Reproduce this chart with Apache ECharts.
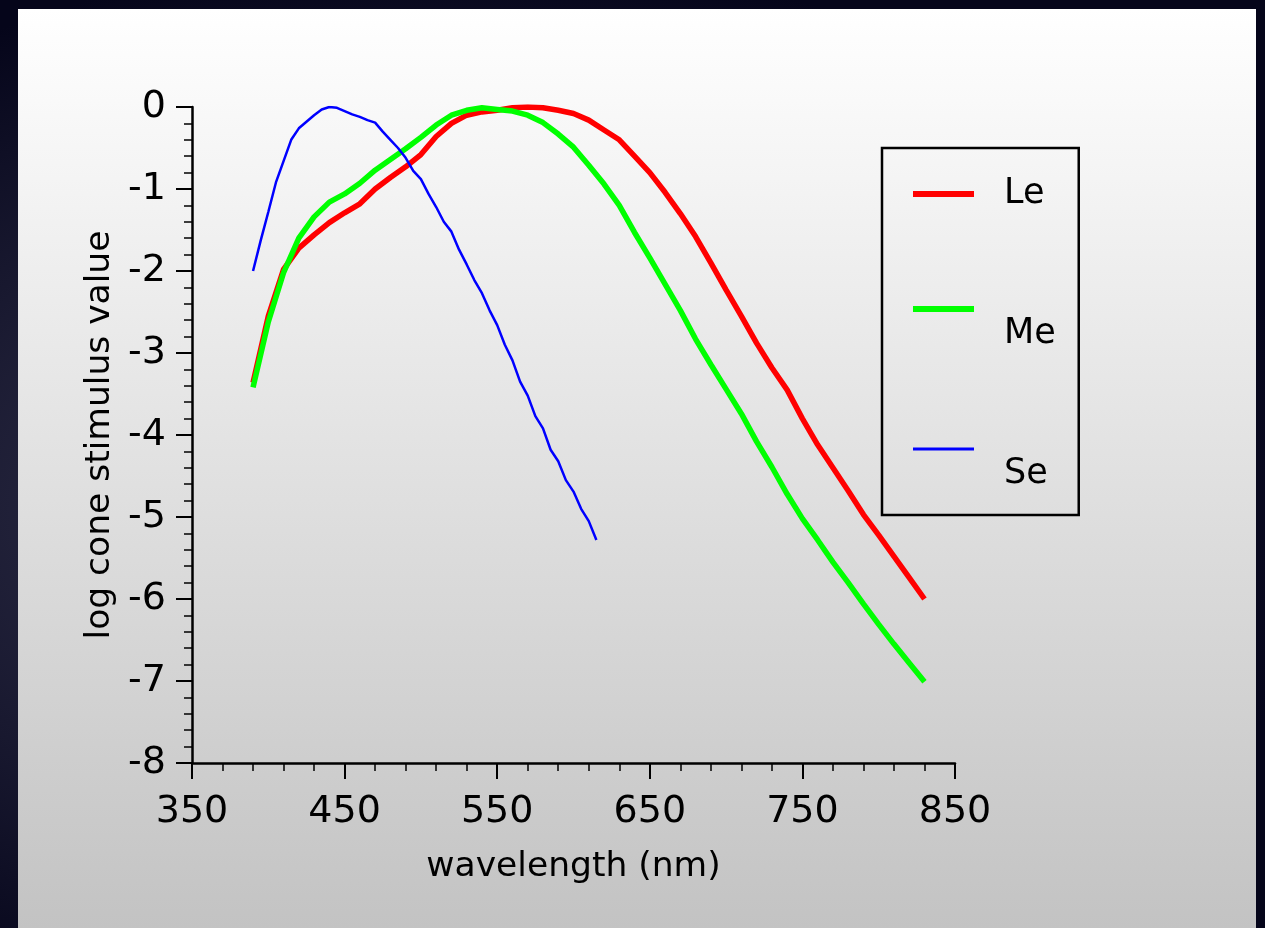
<!DOCTYPE html>
<html>
<head>
<meta charset="utf-8">
<title>log cone stimulus value</title>
<script src="https://cdn.jsdelivr.net/npm/echarts@6/dist/echarts.min.js"></script>
<style>
  html, body { margin: 0; padding: 0; }
  body {
    width: 1265px; height: 928px; overflow: hidden; position: relative;
    background: radial-gradient(ellipse 70% 60% at 35% 55%, #3c3c54 0%, #22223a 45%, #05051a 100%);
  }
  #panel {
    position: absolute; left: 18px; top: 9px; width: 1238px; height: 919px;
    background: linear-gradient(#ffffff, #c3c3c3);
  }
  #chart { position: absolute; left: 0; top: 0; width: 1265px; height: 928px; }
</style>
</head>
<body>
<div id="panel"></div>
<div id="chart"></div>
<script>
// wavelength grid (nm)
const wlLM = [390, 400, 410, 420, 430, 440, 450, 460, 470, 480, 490, 500, 510, 520, 530,
  540, 550, 560, 570, 580, 590, 600, 610, 620, 630, 640, 650, 660, 670, 680, 690, 700,
  710, 720, 730, 740, 750, 760, 770, 780, 790, 800, 810, 820, 830];
const wlS = [390, 395, 400, 405, 410, 415, 420, 425, 430, 435, 440, 445, 450, 455, 460,
  465, 470, 475, 480, 485, 490, 495, 500, 505, 510, 515, 520, 525, 530, 535, 540, 545,
  550, 555, 560, 565, 570, 575, 580, 585, 590, 595, 600, 605, 610, 615];

// log cone stimulus values
const leValues = [-3.36, -2.55, -1.98, -1.72, -1.56, -1.41, -1.29, -1.18, -1.00, -0.86,
  -0.73, -0.58, -0.36, -0.20, -0.10, -0.06, -0.04, -0.01, 0.00, -0.01, -0.04, -0.08,
  -0.16, -0.28, -0.40, -0.60, -0.80, -1.04, -1.30, -1.58, -1.90, -2.23, -2.55, -2.88,
  -3.18, -3.45, -3.80, -4.12, -4.40, -4.68, -4.97, -5.22, -5.48, -5.74, -6.00];
const meValues = [-3.42, -2.62, -2.02, -1.60, -1.34, -1.16, -1.06, -0.93, -0.77, -0.64,
  -0.51, -0.37, -0.22, -0.10, -0.04, -0.01, -0.03, -0.05, -0.10, -0.19, -0.33, -0.49,
  -0.71, -0.94, -1.20, -1.53, -1.84, -2.16, -2.48, -2.83, -3.14, -3.44, -3.74, -4.08,
  -4.39, -4.72, -5.02, -5.28, -5.55, -5.80, -6.06, -6.31, -6.55, -6.78, -7.01];
const seValues = [-2.00, -1.63, -1.28, -0.92, -0.66, -0.40, -0.26, -0.18, -0.10, -0.03,
  0.00, -0.01, -0.05, -0.09, -0.12, -0.16, -0.19, -0.30, -0.40, -0.50, -0.62, -0.78,
  -0.88, -1.06, -1.22, -1.40, -1.52, -1.74, -1.92, -2.11, -2.27, -2.48, -2.66, -2.90,
  -3.09, -3.35, -3.52, -3.77, -3.92, -4.18, -4.32, -4.55, -4.69, -4.90, -5.05, -5.28];

const seriesNames = ['Le', 'Me', 'Se'];
const seriesColors = ['#ff0000', '#00ff00', '#0000ff'];
const seriesWidths = [5.5, 5.5, 2.5];

const font = 'DejaVu Sans, Verdana, sans-serif';

const pairs = (xs, ys) => xs.map((x, i) => [x, ys[i]]);

const chart = echarts.init(document.getElementById('chart'));

const axisCommon = {
  axisLine: { show: true, onZero: false, lineStyle: { color: '#000', width: 2.5 } },
  axisTick: { show: true, length: 16, lineStyle: { color: '#000', width: 2 } },
  minorTick: { show: true, splitNumber: 5, length: 8, lineStyle: { color: '#000', width: 1.5 } },
  splitLine: { show: false },
  axisLabel: { color: '#000', fontSize: 38, fontFamily: font },
  nameLocation: 'middle',
  nameTextStyle: { color: '#000', fontSize: 34.5, fontFamily: font }
};

const option = {
  animation: false,
  backgroundColor: 'transparent',
  grid: { left: 192, right: 310, top: 107, bottom: 165, containLabel: false },
  xAxis: Object.assign({}, axisCommon, {
    type: 'value',
    min: 350, max: 850, interval: 100,
    name: 'wavelength (nm)',
    nameGap: 87,
    axisLabel: Object.assign({}, axisCommon.axisLabel, { margin: 30 })
  }),
  yAxis: Object.assign({}, axisCommon, {
    type: 'value',
    min: -8, max: 0, interval: 1,
    name: 'log cone stimulus value',
    nameGap: 71,
    axisLabel: Object.assign({}, axisCommon.axisLabel, { margin: 26 })
  }),
  legend: {
    orient: 'vertical',
    left: 882, top: 148,
    padding: [21, 23, 16, 28],
    itemGap: 40,
    itemWidth: 61,
    itemHeight: 14,
    borderColor: '#000',
    borderWidth: 2.5,
    selectedMode: false,
    itemStyle: { opacity: 0 },
    formatter: name => (name === seriesNames[0] ? name : '\n' + name),
    textStyle: { color: '#000', fontSize: 35, fontFamily: font, lineHeight: 50, padding: [0, 0, 0, 25] },
    data: seriesNames.map((n, i) => ({ name: n, lineStyle: { width: seriesWidths[i] + 0.5 } }))
  },
  series: seriesNames.map((n, i) => ({
    name: n,
    type: 'line',
    symbol: 'none',
    data: i === 2 ? pairs(wlS, seValues) : pairs(wlLM, i === 0 ? leValues : meValues),
    lineStyle: { color: seriesColors[i], width: seriesWidths[i] },
    itemStyle: { color: seriesColors[i] }
  }))
};

chart.setOption(option);
</script>
</body>
</html>
